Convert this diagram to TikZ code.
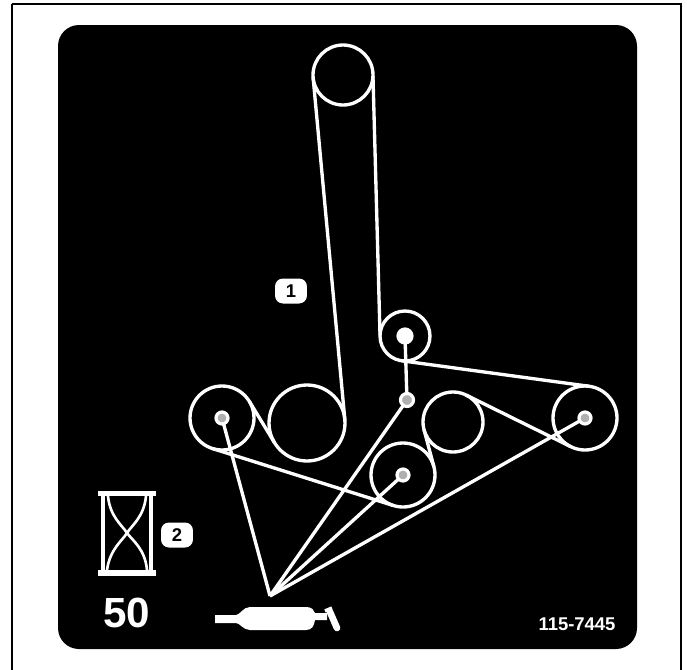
\documentclass[tikz,border=0pt]{standalone}
\usepackage{fontspec}
\setmainfont{Liberation Sans}
\usetikzlibrary{arrows.meta,calc,positioning}
\definecolor{panelcol}{RGB}{0,0,0}
\definecolor{hubcol}{RGB}{175,175,175}
\tikzset{
  pulley/.style={circle,draw=white,line width=1.9pt,inner sep=0pt,outer sep=0pt},
  hub/.style={circle,draw=white,fill=hubcol,line width=1.8pt,inner sep=0pt,outer sep=0pt,minimum size=0.2cm},
  belt/.style={white,line width=1.9pt},
  tag/.style={fill=white,text=black,rounded corners=0.16cm,minimum width=0.64cm,minimum height=0.5cm,inner sep=0pt,font=\bfseries\fontsize{10.5}{12}\selectfont},
}

\begin{document}
\begin{tikzpicture}[x=0.02cm,y=-0.02cm]
\useasboundingbox (0,0) rectangle (687,670);
% ---- frame and panel ----
\fill[white] (0,0) rectangle (687,670);
\draw[black,line width=1.7pt] (12,4) -- (681,4) -- (681,670) (12,4) -- (12,670);
\fill[panelcol,rounded corners=0.42cm] (58,25) rectangle (637,649);
% ---- pulleys ----
\node[pulley,minimum size=1.2cm] (top) at (343,75) {};
\node[pulley,minimum size=1.0cm] (idler) at (405,336) {};
\node[pulley,minimum size=1.52cm] (big) at (307,423) {};
\node[pulley,minimum size=1.28cm] (left) at (222,418) {};
\node[pulley,minimum size=1.2cm] (mid) at (453,422) {};
\node[pulley,minimum size=1.28cm] (lower) at (403,475) {};
\node[pulley,minimum size=1.28cm] (right) at (585,418) {};
% ---- hubs ----
\node[hub,minimum size=0.24cm] (hubL) at (222,418) {};
\node[hub,minimum size=0.24cm] (hubB) at (403,475) {};
\node[hub,minimum size=0.24cm] (hubR) at (585,418) {};
\node[hub,minimum size=0.26cm] (hubS) at (407,400) {};
\node[hub,fill=white,minimum size=0.28cm] (hubI) at (405,336) {};
% ---- belt ----
\draw[belt] (top.185) -- (big.5);
\draw[belt] (top.-2) -- (idler.178);
\draw[belt] (idler.262) -- (right.82);
\draw[belt] (right.244) -- (mid.64);
\draw[belt] (mid.195) -- (lower.15);
\draw[belt] (lower.252) -- (left.252);
\draw[belt] (left.31) -- (big.211);
\draw[belt] (hubI) -- (hubS);
% ---- grease lines ----
\coordinate (grease) at (270,596);
\draw[belt] (hubL) -- (grease);
\draw[belt] (hubS) -- (grease);
\draw[belt] (hubB) -- (grease);
\draw[belt] (hubR) -- (grease);
% grease gun
\fill[white] (215,615) -- (236,615) .. controls (240,615) and (243,607) .. (250,607) -- (306,607)
  .. controls (312,607) and (314,610) .. (315,613) -- (327,613) -- (327,620) -- (315,620)
  .. controls (314,626) and (312,630) .. (306,630) -- (250,630)
  .. controls (243,630) and (240,623) .. (236,623) -- (215,623) -- cycle;
\draw[white,line width=3.8pt,line cap=round] (330,612) -- (337,628);
\draw[white,line width=2pt] (325,611) -- (332,608);
% ---- hourglass ----
\fill[white] (98,491) rectangle (156,496);
\fill[white] (98,570) rectangle (156,576);
\draw[white,line width=1.9pt] (103,496) -- (103,570) (151,496) -- (151,570);
\draw[belt,line width=1.5pt] (108,496) .. controls (110,517) and (122,525) .. (127,533) .. controls (133,541) and (145,549) .. (147,570);
\draw[belt,line width=1.5pt] (146,496) .. controls (144,517) and (132,525) .. (127,533) .. controls (122,541) and (110,549) .. (107,570);
% ---- labels ----
\node[tag] (tagone) at (291,291) {1};
\node[tag] (tagtwo) at (177,535) {2};
\node[white,font=\bfseries\fontsize{24}{28}\selectfont] (minutes) at (127,613) {50};
\node[white,font=\bfseries\fontsize{10.5}{12}\selectfont] (partno) at (577,624) {115-7445};
\end{tikzpicture}
\end{document}
